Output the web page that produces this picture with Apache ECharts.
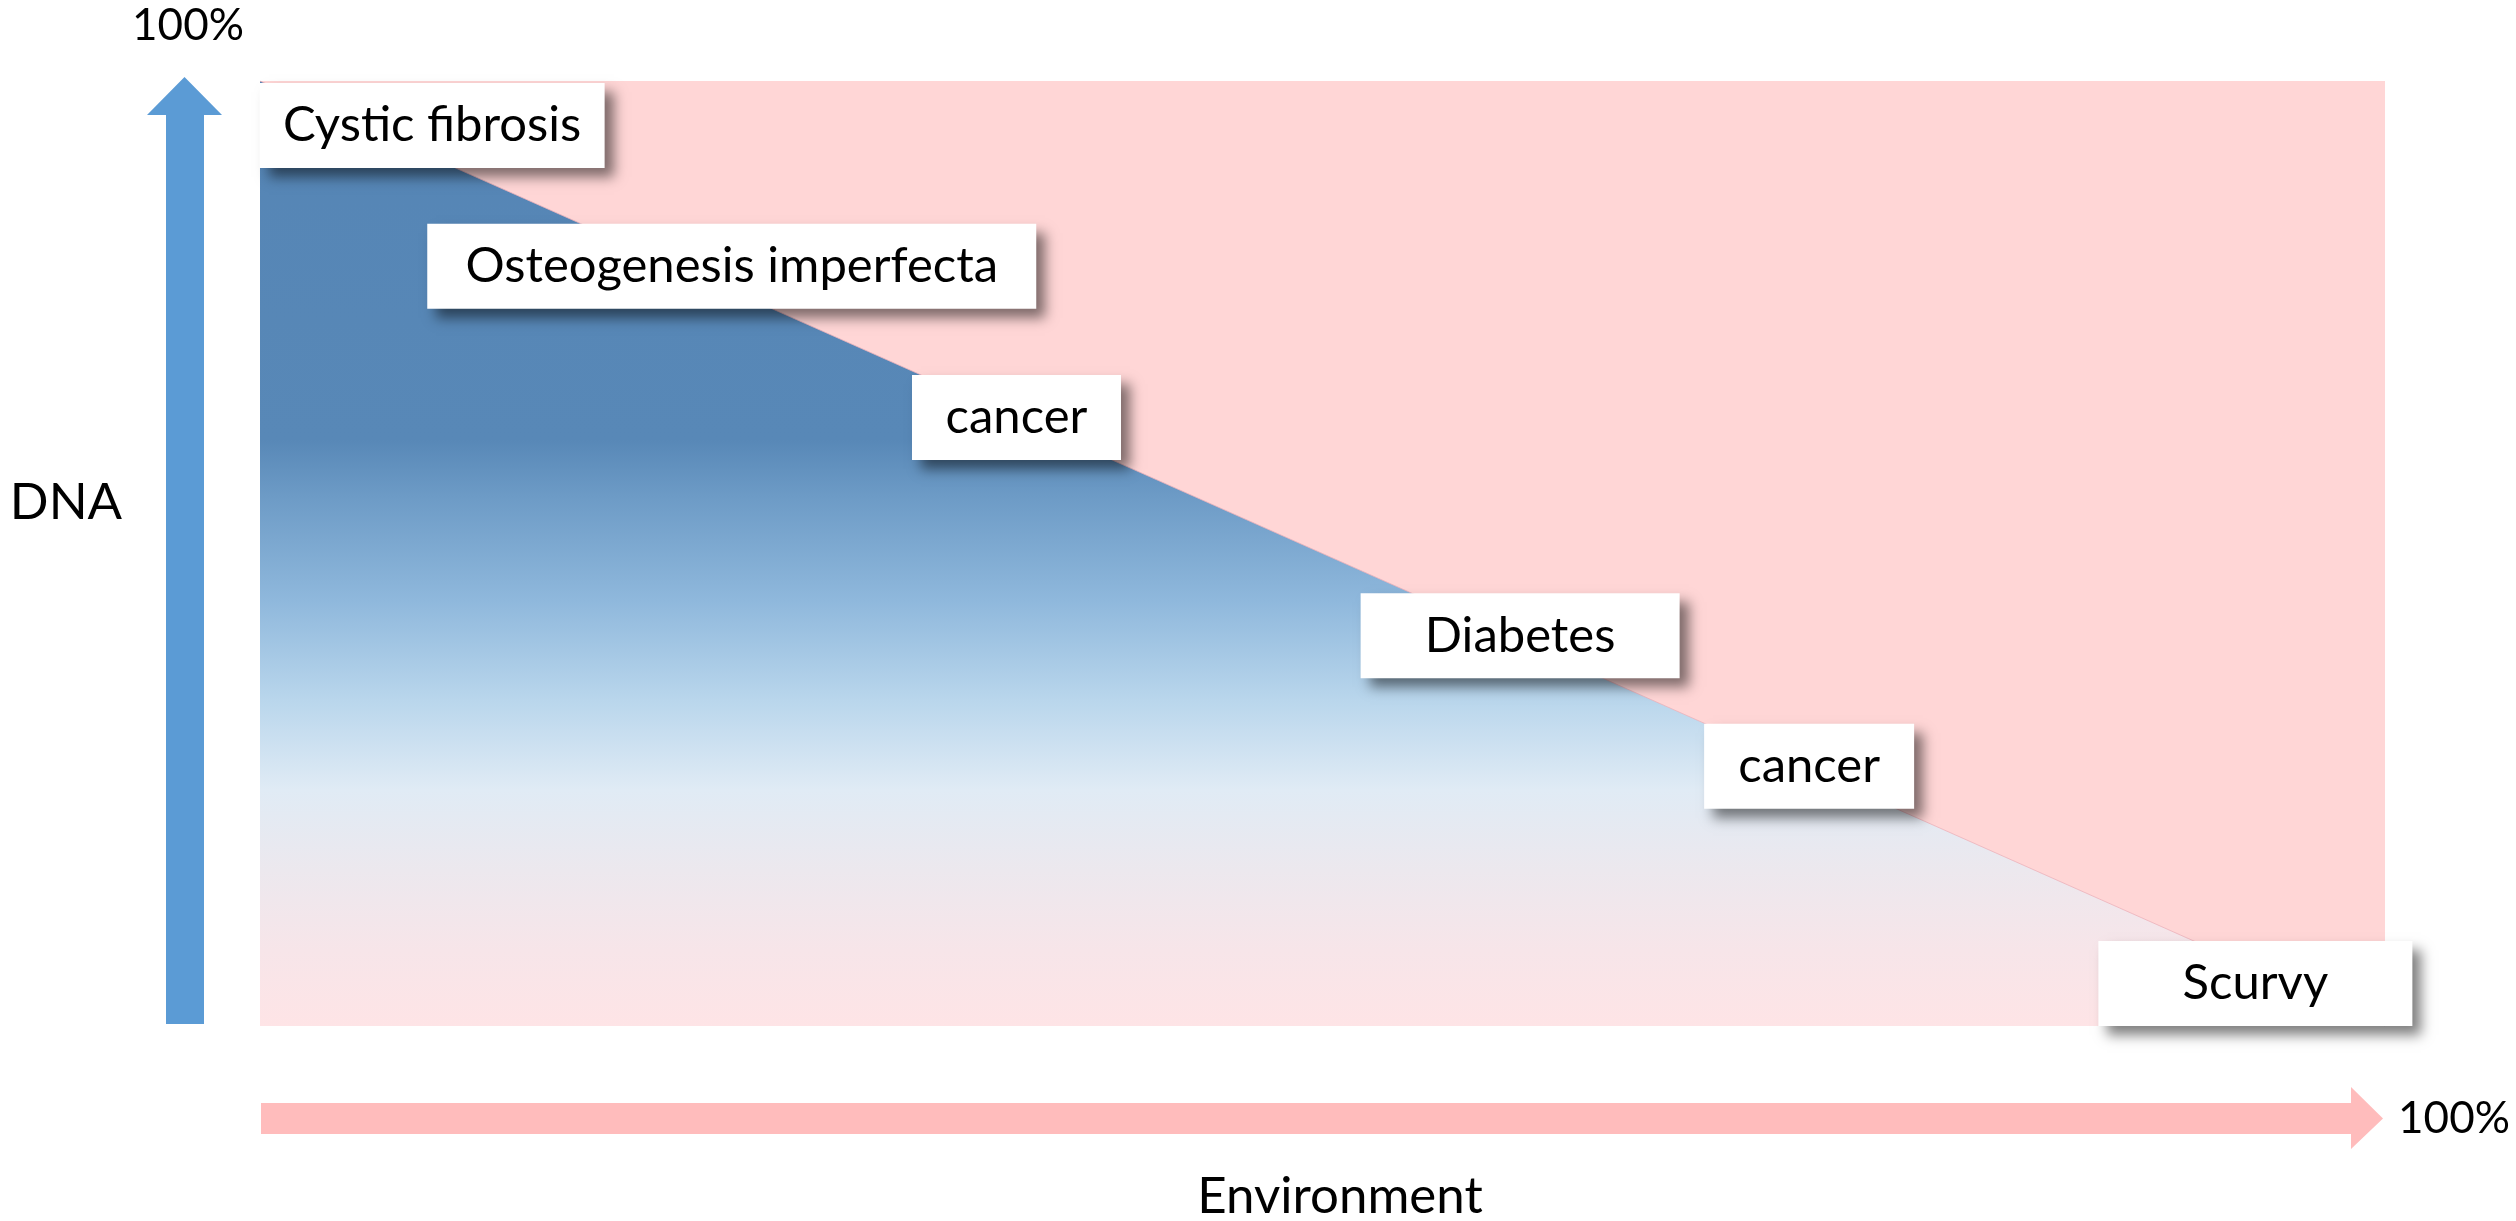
<!DOCTYPE html>
<html>
<head>
<meta charset="utf-8">
<title>DNA vs Environment</title>
<script src="https://cdn.jsdelivr.net/npm/echarts@6/dist/echarts.min.js"></script>
<style>
  html, body { margin: 0; padding: 0; background: #ffffff; }
  #chart { width: 2516px; height: 1221px; }
</style>
</head>
<body>
<div id="chart"></div>
<script>
// ---- data -------------------------------------------------------------
// Share (%) of a condition explained by environment (x) and by DNA (y).
const axisMin = 0;
const axisMax = 100;
const dnaShareLine = [[0, 100], [100, 0]];      // DNA share falls as environment share rises
const fullSquare = [[0, 100], [100, 100]];      // whole 0–100 % field
const diseases = ['Cystic fibrosis', 'Osteogenesis imperfecta', 'cancer', 'Diabetes', 'cancer', 'Scurvy'];
const environmentPct = [8.1, 22.2, 35.6, 59.3, 72.9, 93.9];
const dnaPct = [95.3, 80.4, 64.4, 41.3, 27.5, 4.5];
const xAxisTitle = 'Environment';
const yAxisTitle = 'DNA';
const endLabel = '100%';

// ---- layout & style ---------------------------------------------------
const W = 2516, H = 1221;
const grid = { left: 260, top: 81, right: 131, bottom: 195 };
const gx0 = grid.left, gx1 = W - grid.right, gy0 = grid.top, gy1 = H - grid.bottom;
const labelBoxWidth = [345, 609, 209, 319, 210, 314];
const FONT = 'Lato, "Open Sans", sans-serif';

const points = diseases.map((name, i) => ({
  name: name,
  value: [environmentPct[i], dnaPct[i]],
  label: { width: labelBoxWidth[i] }
}));

// blue arrow (DNA) left of the plot, pink arrow (Environment) below it
const blueArrow = {
  shaftL: 166, shaftR: 204, headL: 147, headR: 222,
  tipY: 77, headY: 115, bottom: gy1 - 2
};
const pinkArrow = {
  left: gx0 + 1, shaftT: 1103, shaftB: 1134, headT: 1087, headB: 1149,
  headX: 2351, tipX: 2383
};
const midPink = (pinkArrow.shaftT + pinkArrow.shaftB) / 2;
const midBlue = (blueArrow.headL + blueArrow.headR) / 2;

const option = {
  backgroundColor: '#ffffff',
  animation: false,
  grid: grid,
  xAxis: {
    type: 'value', min: axisMin, max: axisMax,
    axisLine: { show: false }, axisTick: { show: false },
    axisLabel: { show: false }, splitLine: { show: false }
  },
  yAxis: {
    type: 'value', min: axisMin, max: axisMax,
    axisLine: { show: false }, axisTick: { show: false },
    axisLabel: { show: false }, splitLine: { show: false }
  },
  series: [
    {
      name: 'Environment',
      type: 'line',
      data: fullSquare,
      showSymbol: false,
      lineStyle: { width: 0 },
      areaStyle: { color: '#ffd6d6', opacity: 1 },
      silent: true,
      z: 1
    },
    {
      name: 'DNA',
      type: 'line',
      data: dnaShareLine,
      showSymbol: false,
      lineStyle: { width: 1, color: 'rgba(236,178,186,0.8)' },
      areaStyle: {
        opacity: 1,
        color: {
          type: 'linear', x: 0, y: 0, x2: 0, y2: 1,
          colorStops: [
            { offset: 0.00, color: '#5585b5' },
            { offset: 0.38, color: '#5888b7' },
            { offset: 0.44, color: '#6d9bc6' },
            { offset: 0.55, color: '#8fb8dc' },
            { offset: 0.655, color: '#b9d6ec' },
            { offset: 0.75, color: '#e0ebf5' },
            { offset: 0.835, color: '#ece8ee' },
            { offset: 0.92, color: '#f7e5e9' },
            { offset: 1.00, color: '#fee4e6' }
          ]
        }
      },
      silent: true,
      z: 2
    },
    {
      name: 'Conditions',
      type: 'scatter',
      data: points,
      symbolSize: 1,
      itemStyle: { color: 'rgba(0,0,0,0)', opacity: 1 },
      silent: true,
      z: 5,
      label: {
        show: true,
        position: 'inside',
        formatter: '{b}',
        color: '#000000',
        opacity: 1,
        fontFamily: FONT,
        fontSize: 49,
        lineHeight: 85,
        align: 'center',
        verticalAlign: 'middle',
        backgroundColor: '#ffffff',
        padding: 0,
        shadowColor: 'rgba(0,0,0,0.5)',
        shadowBlur: 12,
        shadowOffsetX: 9,
        shadowOffsetY: 9
      }
    }
  ],
  graphic: [
    {
      type: 'polygon',
      shape: {
        points: [
          [blueArrow.shaftL, blueArrow.bottom], [blueArrow.shaftL, blueArrow.headY],
          [blueArrow.headL, blueArrow.headY], [midBlue, blueArrow.tipY],
          [blueArrow.headR, blueArrow.headY], [blueArrow.shaftR, blueArrow.headY],
          [blueArrow.shaftR, blueArrow.bottom]
        ]
      },
      style: { fill: '#5b9bd5' },
      silent: true
    },
    {
      type: 'polygon',
      shape: {
        points: [
          [pinkArrow.left, pinkArrow.shaftT], [pinkArrow.headX, pinkArrow.shaftT],
          [pinkArrow.headX, pinkArrow.headT], [pinkArrow.tipX, midPink],
          [pinkArrow.headX, pinkArrow.headB], [pinkArrow.headX, pinkArrow.shaftB],
          [pinkArrow.left, pinkArrow.shaftB]
        ]
      },
      style: { fill: '#ffbcbc' },
      silent: true
    },
    {
      type: 'text', x: 188, y: 26,
      style: { text: endLabel, fill: '#000', font: '44px ' + FONT, textAlign: 'center', textVerticalAlign: 'middle' },
      silent: true
    },
    {
      type: 'text', x: 2454, y: midPink,
      style: { text: endLabel, fill: '#000', font: '44px ' + FONT, textAlign: 'center', textVerticalAlign: 'middle' },
      silent: true
    },
    {
      type: 'text', x: 66, y: 503,
      style: { text: yAxisTitle, fill: '#000', font: '51px ' + FONT, textAlign: 'center', textVerticalAlign: 'middle' },
      silent: true
    },
    {
      type: 'text', x: 1340, y: 1197,
      style: { text: xAxisTitle, fill: '#000', font: '51px ' + FONT, textAlign: 'center', textVerticalAlign: 'middle' },
      silent: true
    }
  ]
};

const chart = echarts.init(document.getElementById('chart'), null, { renderer: 'canvas', width: W, height: H });
chart.setOption(option);
</script>
</body>
</html>
